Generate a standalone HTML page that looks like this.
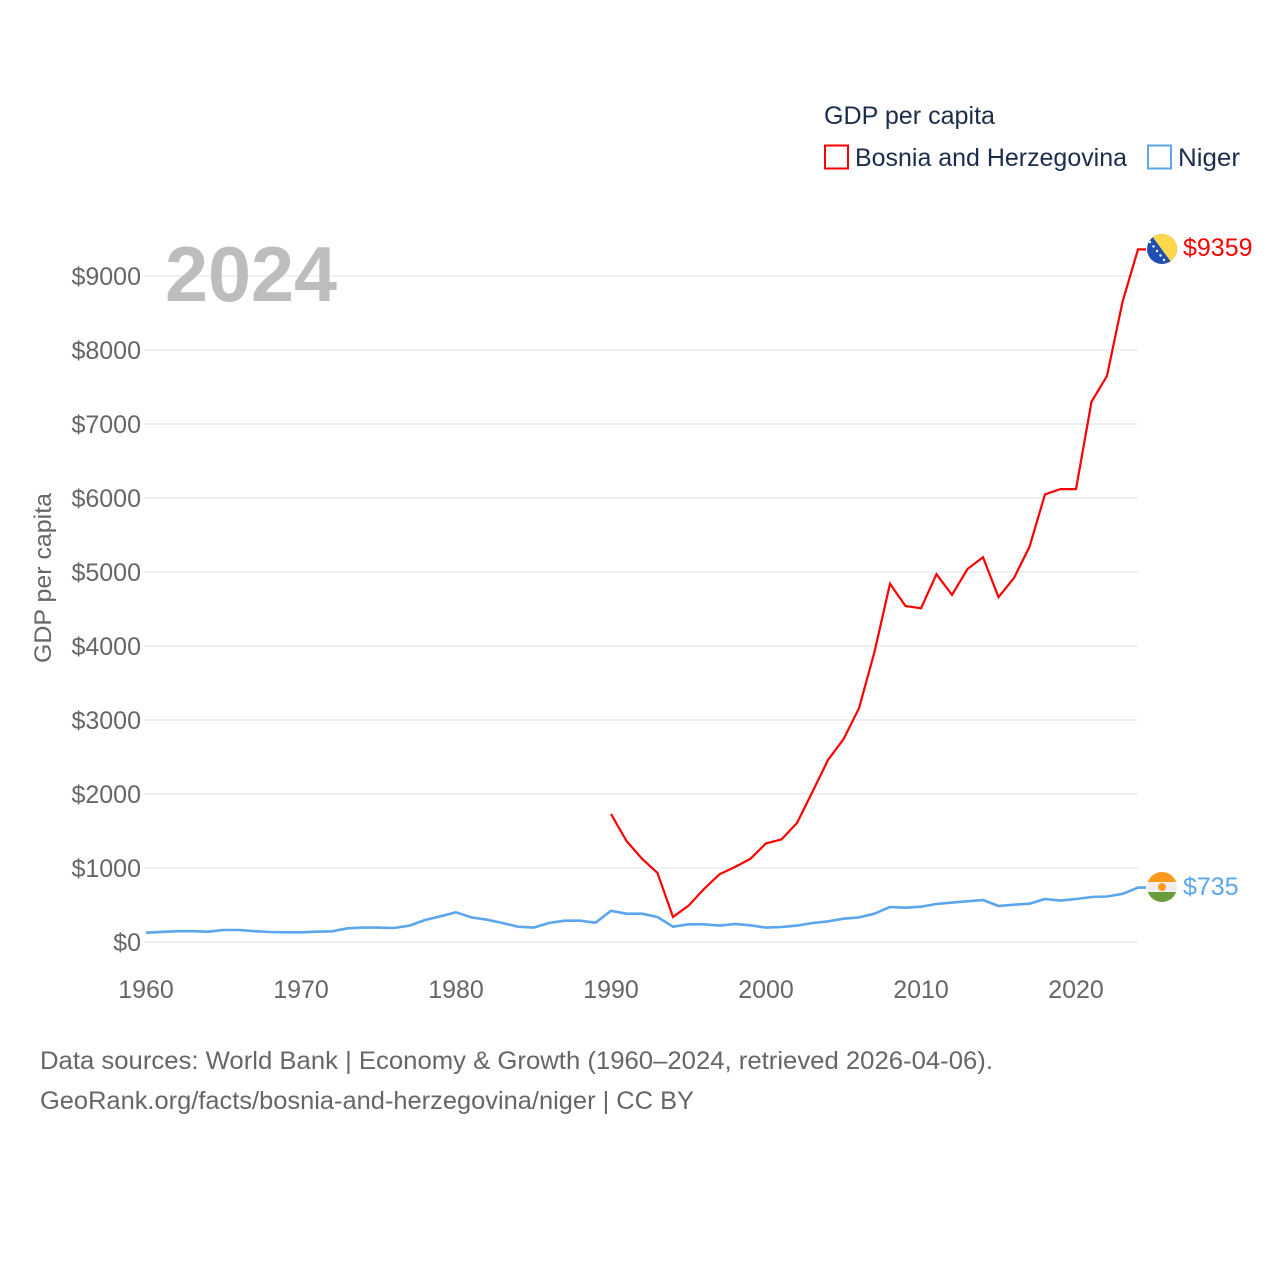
<!DOCTYPE html>
<html>
<head>
<meta charset="utf-8">
<style>
  html,body{margin:0;padding:0;background:#fff;}
  svg{display:block;}
  text{font-family:"Liberation Sans", sans-serif;}
</style>
</head>
<body>
<svg width="1280" height="1280" viewBox="0 0 1280 1280" xmlns="http://www.w3.org/2000/svg">
  <rect width="1280" height="1280" fill="#fff"/>

  <!-- Legend -->
  <text x="824" y="124" font-size="25" fill="#1c2d4c" textLength="171" lengthAdjust="spacingAndGlyphs">GDP per capita</text>
  <rect x="825" y="145.5" width="23" height="23" fill="none" stroke="#ff0000" stroke-width="2"/>
  <text x="855" y="166" font-size="25" fill="#1c2d4c" textLength="272" lengthAdjust="spacingAndGlyphs">Bosnia and Herzegovina</text>
  <rect x="1148" y="145.5" width="23" height="23" fill="none" stroke="#5ba6ec" stroke-width="2"/>
  <text x="1178" y="166" font-size="25" fill="#1c2d4c" textLength="62" lengthAdjust="spacingAndGlyphs">Niger</text>

  <!-- Gridlines -->
  <g stroke="#ebebeb" stroke-width="1.6">
    <line x1="144" y1="942" x2="1138" y2="942"/>
    <line x1="144" y1="868" x2="1138" y2="868"/>
    <line x1="144" y1="794" x2="1138" y2="794"/>
    <line x1="144" y1="720" x2="1138" y2="720"/>
    <line x1="144" y1="646" x2="1138" y2="646"/>
    <line x1="144" y1="572" x2="1138" y2="572"/>
    <line x1="144" y1="498" x2="1138" y2="498"/>
    <line x1="144" y1="424" x2="1138" y2="424"/>
    <line x1="144" y1="350" x2="1138" y2="350"/>
    <line x1="144" y1="276" x2="1138" y2="276"/>
  </g>

  <!-- Big year -->
  <text x="165" y="301" font-size="78" font-weight="bold" fill="#bdbdbd" textLength="172" lengthAdjust="spacingAndGlyphs">2024</text>

  <!-- Y tick labels -->
  <g font-size="25" fill="#666" text-anchor="end">
    <text x="141" y="951">$0</text>
    <text x="141" y="877">$1000</text>
    <text x="141" y="803">$2000</text>
    <text x="141" y="729">$3000</text>
    <text x="141" y="655">$4000</text>
    <text x="141" y="581">$5000</text>
    <text x="141" y="507">$6000</text>
    <text x="141" y="433">$7000</text>
    <text x="141" y="359">$8000</text>
    <text x="141" y="285">$9000</text>
  </g>

  <!-- Y axis title -->
  <text transform="translate(51,578) rotate(-90)" font-size="24" fill="#666" text-anchor="middle" textLength="170" lengthAdjust="spacingAndGlyphs">GDP per capita</text>

  <!-- X tick labels -->
  <g font-size="25" fill="#666" text-anchor="middle">
    <text x="146" y="998">1960</text>
    <text x="301" y="998">1970</text>
    <text x="456" y="998">1980</text>
    <text x="611" y="998">1990</text>
    <text x="766" y="998">2000</text>
    <text x="921" y="998">2010</text>
    <text x="1076" y="998">2020</text>
  </g>

  <!-- Niger series -->
  <polyline fill="none" stroke="#5ba6ec" stroke-width="2.6" stroke-linejoin="round" points="
146,932.7 161.5,931.9 177,931.2 192.5,931.2 208,931.7 223.5,930.0 239,930.0 254.5,931.2 270,932.0 285.5,932.3
301,932.3 316.5,931.7 332,931.3 347.5,928.3 363,927.6 378.5,927.6 394,928.0 409.5,925.6 425,920.0 440.5,916.3
456,912.3 471.5,917.4 487,919.7 502.5,923.0 518,926.7 533.5,927.6 549,923.0 564.5,920.7 580,920.7 595.5,922.7
611,910.8 626.5,913.7 642,913.7 657.5,917.0 673,926.7 688.5,924.3 704,924.3 719.5,925.6 735,924.0 750.5,925.3
766,927.6 781.5,927.0 797,925.6 812.5,923.0 828,921.4 843.5,918.7 859,917.4 874.5,913.7 890,907.0 905.5,907.7
921,906.7 936.5,904.0 952,902.6 967.5,901.3 983,900.0 998.5,906.0 1014,904.7 1029.5,903.7 1045,899.0 1060.5,900.6
1076,899.0 1091.5,897.0 1107,896.5 1122.5,893.9 1138,887.6 1146,887.6"/>

  <!-- Bosnia series -->
  <polyline fill="none" stroke="#ff0000" stroke-width="2.2" stroke-linejoin="miter" points="
611,814.0 626.5,841.0 642,858.7 657.5,873.0 673,917.0 688.5,905.7 704,889.0 719.5,874.3 735,867.0 750.5,858.7
766,843.4 781.5,839.4 797,823.0 812.5,791.8 828,760.0 843.5,739.2 859,708.2 874.5,651.9 890,583.8 905.5,606.0
921,608.3 936.5,574.2 952,594.9 967.5,569.0 983,557.2 998.5,597.2 1014,577.9 1029.5,546.8 1045,494.3 1060.5,489.1
1076,489.1 1091.5,401.8 1107,375.9 1122.5,301.9 1138,249.4 1146,249.4"/>

  <!-- Bosnia flag -->
  <defs>
    <clipPath id="cb"><circle cx="1162" cy="249" r="15"/></clipPath>
    <clipPath id="cn"><circle cx="1162" cy="887" r="15"/></clipPath>
  </defs>
  <g clip-path="url(#cb)">
    <rect x="1146" y="233" width="32" height="32" fill="#1f4fb0"/>
    <polygon points="1149,232 1180,232 1180,266 1174,266" fill="#fdd84a"/>
    <g fill="#ffffff">
      <circle cx="1150" cy="242" r="1.2"/>
      <circle cx="1153.5" cy="246.5" r="1.2"/>
      <circle cx="1157" cy="251" r="1.2"/>
      <circle cx="1160.5" cy="255.5" r="1.2"/>
      <circle cx="1164" cy="260" r="1.2"/>
      <circle cx="1167.5" cy="264" r="1.2"/>
    </g>
  </g>
  <text x="1183" y="256" font-size="25" fill="#ff0000">$9359</text>

  <!-- Niger flag -->
  <g clip-path="url(#cn)">
    <rect x="1146" y="871" width="32" height="11" fill="#ff9a1e"/>
    <rect x="1146" y="882" width="32" height="10" fill="#eeeeee"/>
    <rect x="1146" y="892" width="32" height="12" fill="#6a9e3c"/>
    <circle cx="1162" cy="887" r="4" fill="#ff9a1e"/>
  </g>
  <text x="1183" y="895" font-size="25" fill="#5ba6ec">$735</text>

  <!-- Footer -->
  <text x="40" y="1069" font-size="25" fill="#666" textLength="953" lengthAdjust="spacingAndGlyphs">Data sources: World Bank | Economy &amp; Growth (1960–2024, retrieved 2026-04-06).</text>
  <text x="40" y="1109" font-size="25" fill="#666" textLength="654" lengthAdjust="spacingAndGlyphs">GeoRank.org/facts/bosnia-and-herzegovina/niger | CC BY</text>
</svg>
</body>
</html>
